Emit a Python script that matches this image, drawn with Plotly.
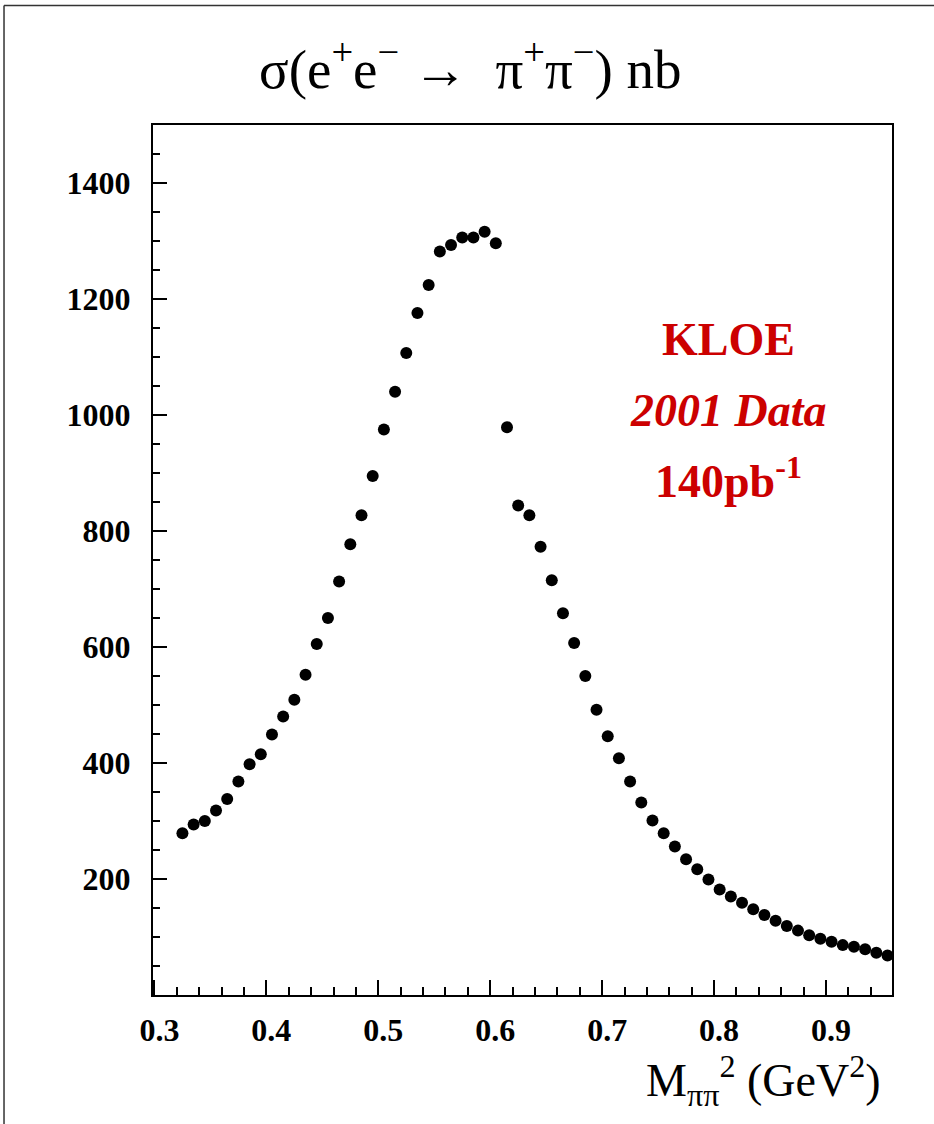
import plotly.graph_objects as go

# M_pipi^2 bin centres (GeV^2)
mass2 = [0.325, 0.335, 0.345, 0.355, 0.365, 0.375, 0.385, 0.395, 0.405, 0.415,
         0.425, 0.435, 0.445, 0.455, 0.465, 0.475, 0.485, 0.495, 0.505, 0.515,
         0.525, 0.535, 0.545, 0.555, 0.565, 0.575, 0.585, 0.595, 0.605, 0.615,
         0.625, 0.635, 0.645, 0.655, 0.665, 0.675, 0.685, 0.695, 0.705, 0.715,
         0.725, 0.735, 0.745, 0.755, 0.765, 0.775, 0.785, 0.795, 0.805, 0.815,
         0.825, 0.835, 0.845, 0.855, 0.865, 0.875, 0.885, 0.895, 0.905, 0.915,
         0.925, 0.935, 0.945, 0.955]

# sigma(e+e- -> pi+pi-) in nb
sigma_nb = [279, 294, 300, 318, 338, 368, 398, 415, 449, 480,
            509, 552, 605, 650, 713, 777, 827, 895, 975, 1040,
            1107, 1176, 1224, 1282, 1293, 1306, 1306, 1316, 1296, 979,
            844, 827, 773, 715, 658, 607, 550, 492, 446, 408,
            368, 332, 301, 279, 256, 234, 217, 199, 182, 170,
            159, 148, 138, 128, 119, 111, 103, 97, 92, 86,
            83, 79, 73, 68]

x_ticks = [0.3, 0.4, 0.5, 0.6, 0.7, 0.8, 0.9]
x_tick_labels = ["0.3", "0.4", "0.5", "0.6", "0.7", "0.8", "0.9"]
y_ticks = [200, 400, 600, 800, 1000, 1200, 1400]
y_tick_labels = ["200", "400", "600", "800", "1000", "1200", "1400"]

SERIF = "Liberation Serif, Times New Roman, serif"
RED = "#cc0000"

fig = go.Figure()
fig.add_trace(go.Scatter(
    x=mass2, y=sigma_nb, mode="markers",
    marker=dict(symbol="circle", size=12, color="black"),
    showlegend=False,
))

fig.update_layout(
    width=934, height=1124,
    margin=dict(l=153, r=42, t=125, b=129),
    paper_bgcolor="white", plot_bgcolor="white",
    font=dict(family=SERIF, color="black", size=32),
)

fig.update_xaxes(
    range=[0.2987, 0.959],
    tickmode="array", tickvals=x_ticks,
    ticktext=["<b>%s</b>" % t for t in x_tick_labels],
    ticks="inside", ticklen=15, tickwidth=1.5, tickcolor="black",
    minor=dict(ticks="inside", ticklen=8, tickwidth=1.5, tickcolor="black",
               tickmode="linear", tick0=0.3, dtick=0.02),
    showline=True, linewidth=2, linecolor="black", mirror=True,
    showgrid=False, zeroline=False,
    tickfont=dict(family=SERIF, size=32, color="black"),
    ticklabelshift=5, ticklabelstandoff=6,
)
fig.update_yaxes(
    range=[0, 1500],
    tickmode="array", tickvals=y_ticks,
    ticktext=["<b>%s</b>" % t for t in y_tick_labels],
    ticks="inside", ticklen=14, tickwidth=1.5, tickcolor="black",
    minor=dict(ticks="inside", ticklen=7, tickwidth=1.5, tickcolor="black",
               tickmode="linear", tick0=0, dtick=50),
    showline=True, linewidth=2, linecolor="black", mirror=True,
    showgrid=False, zeroline=False,
    tickfont=dict(family=SERIF, size=32, color="black"),
    ticklabelstandoff=14,
)

# outer frame (top and left edges only are visible in the picture)
fig.add_shape(type="line", xref="paper", yref="paper",
              x0=-0.2016, x1=1.2, y0=1.1375, y1=1.1375,
              line=dict(color="#333333", width=1.5), layer="above")
fig.add_shape(type="line", xref="paper", yref="paper",
              x0=-0.2016, x1=-0.2016, y0=-0.2, y1=1.1375,
              line=dict(color="#333333", width=1.5), layer="above")

# title
fig.add_annotation(
    xref="paper", yref="paper", x=0.43, y=1.068, xanchor="center", yanchor="middle",
    text="σ(e<sup>+</sup>e<sup>−</sup> →  π<sup>+</sup>π<sup>−</sup>) nb",
    showarrow=False, font=dict(family=SERIF, size=55, color="black"),
)
# x-axis title
fig.add_annotation(
    xref="paper", yref="paper", x=0.988, y=-0.098, xanchor="right", yanchor="middle",
    text="M<sub>ππ</sub><sup>2</sup> (GeV<sup>2</sup>)",
    showarrow=False, font=dict(family=SERIF, size=46, color="black"),
)
# KLOE labels
fig.add_annotation(
    xref="paper", yref="paper", x=0.779, y=0.753, xanchor="center", yanchor="middle",
    text="<b>KLOE</b>", showarrow=False, font=dict(family=SERIF, size=46, color=RED),
)
fig.add_annotation(
    xref="paper", yref="paper", x=0.779, y=0.672, xanchor="center", yanchor="middle",
    text="<b><i>2001 Data</i></b>", showarrow=False, font=dict(family=SERIF, size=46, color=RED),
)
fig.add_annotation(
    xref="paper", yref="paper", x=0.779, y=0.594, xanchor="center", yanchor="middle",
    text="<b>140pb<sup>-1</sup></b>", showarrow=False, font=dict(family=SERIF, size=46, color=RED),
)

fig.write_html("out.html")
